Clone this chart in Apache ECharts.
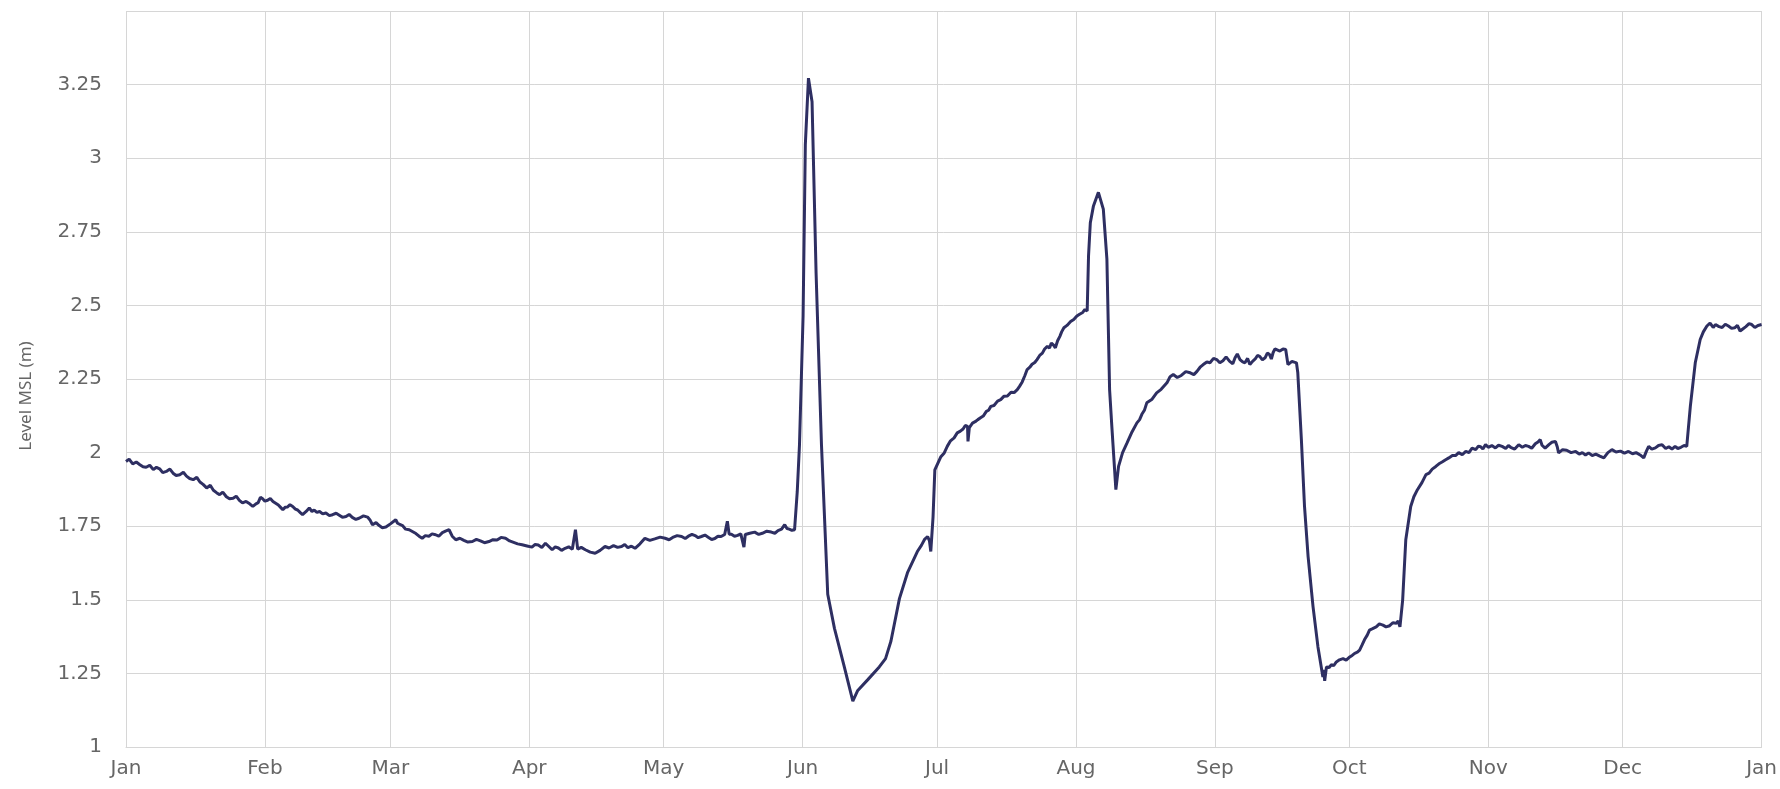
<!DOCTYPE html>
<html>
<head>
<meta charset="utf-8">
<script src="https://cdn.jsdelivr.net/npm/echarts@6/dist/echarts.min.js"></script>
<style>
html,body{margin:0;padding:0;background:#fff;}
#chart{width:1780px;height:789px;}
</style>
</head>
<body>
<div id="chart"></div>
<script>
// [day of year (from 1 Jan), level MSL (m)], segment by segment
const janToMay = [
[0,1.970],[0.7,1.978],[1.5,1.962],[2.3,1.968],[3.1,1.959],[3.8,1.952],[4.5,1.950],[5.3,1.957],[6.1,1.942],[6.8,1.950],
[7.5,1.945],[8.2,1.932],[9.0,1.936],[9.8,1.944],[10.5,1.930],[11.2,1.922],[12.0,1.925],[12.8,1.933],[13.5,1.920],[14.2,1.912],
[15,1.908],[15.8,1.916],[16.5,1.900],[17.2,1.892],[18,1.880],[18.8,1.889],[19.5,1.872],[20.2,1.864],[20.9,1.857],[21.6,1.866],
[22.4,1.850],[23.1,1.843],[23.9,1.845],[24.6,1.852],[25.3,1.838],[26.0,1.829],[26.8,1.834],[27.6,1.826],[28.3,1.817],[29.0,1.826],
[29.5,1.830],[30.0,1.848],[30.5,1.843],[31.0,1.835],[31.6,1.838],[32.2,1.844],[32.8,1.834],[33.4,1.828],[34,1.822],[34.5,1.814],
[35,1.806],[35.5,1.814],[36,1.815],[36.6,1.823],[37.2,1.817],[37.8,1.808],[38.3,1.805],[38.9,1.796],[39.4,1.789],[40.2,1.800],
[40.9,1.812],[41.5,1.800],[42,1.805],[42.6,1.797],[43.2,1.800],[43.9,1.792],[44.6,1.795],[45.4,1.786],[46.1,1.789],[46.9,1.794],
[47.6,1.787],[48.3,1.780],[49.1,1.783],[49.8,1.790],[50.5,1.780],[51.3,1.773],[52,1.777],[53,1.785],[53.9,1.781],[54.5,1.770],
[55,1.755],[55.8,1.762],[56.5,1.752],[57.2,1.745],[58,1.747],[59,1.758],[60.2,1.772],[60.6,1.760],[61,1.766],[61.7,1.752],
[62.4,1.740],[62.8,1.745],[63.2,1.738],[63.9,1.732],[64.7,1.725],[65.4,1.716],[66.1,1.709],[66.8,1.718],[67.6,1.716],[68.3,1.724],
[69.1,1.721],[69.8,1.716],[70.6,1.728],[71.3,1.733],[72.1,1.738],[72.8,1.716],[73.6,1.704],[74.5,1.709],[75.4,1.702],[76.3,1.696],
[77.3,1.698],[78.2,1.705],[79.1,1.700],[80,1.694],[81,1.698],[81.9,1.704],[82.8,1.703],[83.7,1.712],[84.7,1.709],[85.6,1.700],
[86.5,1.695],[87.4,1.690],[88.4,1.687],[89.5,1.683],[90.6,1.679],[91.3,1.688],[92,1.686],[92.8,1.678],[93.6,1.692],[94.3,1.682],
[95.1,1.670],[95.8,1.680],[96.5,1.676],[97.2,1.668],[98,1.675],[98.8,1.680],[99.6,1.672],[100.3,1.738],[100.8,1.672],[101.6,1.678],
[102.5,1.670],[103.6,1.662],[104.7,1.658],[105.8,1.668],[106.9,1.681],[107.8,1.676],[108.8,1.684],[109.7,1.678],[110.6,1.681],[111.3,1.688],
[112,1.677],[112.8,1.682],[113.6,1.675],[114.7,1.690],[115.8,1.709],[116.9,1.702],[118,1.707],[119.2,1.713],[120.3,1.709],[121.2,1.704],
[122,1.712],[123,1.718],[124,1.715],[124.8,1.708],[125.5,1.716],[126.3,1.722],[127,1.718],[127.7,1.711],[128.4,1.715],[129.2,1.720],
[130,1.712],[130.7,1.705],[131.4,1.708],[132.1,1.716],[132.8,1.715],[133.6,1.722],[134.2,1.767],[134.6,1.723],[135.1,1.723],[135.8,1.716],
[136.5,1.719],[137.2,1.724],[137.9,1.679],[138.2,1.722],[139.2,1.726],[140.3,1.730],[141.2,1.722],[142,1.726],[143,1.733],[144,1.730],
[144.8,1.726],[145.5,1.735],[146.3,1.740],[147,1.755],[147.5,1.742],[148,1.740],[148.6,1.736],[149.2,1.738]
];
const juneSurge = [
[149.8,1.868],[150.3,2.028],[151.1,2.465],[151.6,3.046],[152.3,3.272],[153.1,3.192],[154,2.610],[155.2,2.028],[156.6,1.519],[158.1,1.403],
[160.3,1.272],[162.2,1.156],[163.3,1.192],[165.5,1.228],[168.1,1.272],[169.5,1.300],[170.7,1.359],[172.6,1.504],[174.4,1.592],[176.6,1.664],
[177.5,1.685],[178.2,1.705],[178.9,1.715],[179.3,1.700],[179.6,1.664],[180.1,1.781],[180.5,1.941]
];
const julyRise = [
[181.8,1.985],[182.6,1.999],[183.3,2.022],[184,2.040],[184.8,2.050],[185.5,2.067],[186.2,2.073],[186.8,2.080],[187.3,2.092],[187.8,2.089],
[187.9,2.038],[188.2,2.085],[188.9,2.100],[189.5,2.105],[190.1,2.112],[190.7,2.118],[191.3,2.124],[192,2.140],[192.5,2.144],[193,2.157],
[193.7,2.160],[194.5,2.175],[195.2,2.180],[195.9,2.191],[196.7,2.192],[197.5,2.205],[198.2,2.204],[198.9,2.214],[199.4,2.225],[200,2.240],
[200.6,2.262],[201.1,2.282],[201.7,2.290],[202.2,2.300],[202.8,2.306],[203.3,2.316],[203.9,2.330],[204.5,2.338],[205,2.352],[205.6,2.361],
[206.1,2.355],[206.5,2.372],[207,2.365],[207.4,2.356],[207.9,2.380],[208.4,2.395],[208.8,2.410],[209.3,2.424],[210,2.432],[210.8,2.445],
[211.5,2.452],[212.2,2.464],[212.8,2.470],[213.5,2.476],[214,2.486],[214.5,2.481]
];
const augustSurge = [
[214.8,2.668],[215.2,2.781],[215.9,2.838],[217,2.884],[218.1,2.827],[218.9,2.657],[219.5,2.214],[220,2.089],[220.9,1.874]
];
const augToSep = [
[221.5,1.953],[222.4,2.000],[223.4,2.033],[224.5,2.070],[225.6,2.101],[226.2,2.112],[226.7,2.130],[227.3,2.145],[227.8,2.169],[228.9,2.180],
[230,2.203],[231,2.215],[232.3,2.237],[233,2.258],[233.7,2.265],[234.6,2.255],[235.5,2.262],[236.5,2.275],[237.5,2.271],[238.3,2.265],
[239,2.276],[239.7,2.290],[240.4,2.299],[241.2,2.308],[241.9,2.305],[242.7,2.320],[243.4,2.316],[244.1,2.305],[244.8,2.312],[245.5,2.325],
[246.3,2.310],[247,2.302],[247.5,2.322],[248,2.335],[248.6,2.316],[249.2,2.308],[249.7,2.305],[250.3,2.320],[250.8,2.299],[251.4,2.310],
[252,2.318],[252.5,2.330],[253,2.327],[253.6,2.315],[254.2,2.322],[254.7,2.338],[255.2,2.333],[255.6,2.318],[256,2.340],[256.4,2.352],
[256.7,2.350],[257.5,2.345],[258.2,2.352],[258.8,2.350],[259.3,2.299],[260.2,2.310],[261.2,2.305],[261.5,2.271]
];
const septDropOct = [
[262.3,2.044],[263,1.817],[263.8,1.647],[264.9,1.477],[266,1.340],[267.1,1.238],[267.3,1.262],[267.5,1.225],[267.9,1.272],[268.5,1.270],
[269,1.280],[269.5,1.276],[270.1,1.289],[270.8,1.296],[271.6,1.300],[272.3,1.295],[273.1,1.306],[273.7,1.312],[274.2,1.318],[274.8,1.322],
[275.3,1.329],[275.8,1.345],[276.4,1.365],[277,1.380],[277.5,1.397],[278.2,1.402],[279,1.408],[279.7,1.418],[280.5,1.414],[281.2,1.408],
[282,1.412],[282.7,1.422],[283.5,1.420],[283.9,1.428],[284.3,1.408],[284.9,1.499],[285.6,1.704]
];
const novToDec = [
[286.7,1.817],[287.4,1.850],[288.2,1.874],[289.2,1.898],[290.1,1.925],[290.8,1.930],[291.5,1.944],[292.3,1.953],[293,1.962],[293.7,1.968],
[294.4,1.975],[295.2,1.982],[296,1.990],[296.7,1.990],[297.4,2.000],[298.2,1.993],[299,2.004],[299.7,2.000],[300.4,2.015],[301.2,2.010],
[301.8,2.022],[302.3,2.020],[302.8,2.012],[303.4,2.027],[304,2.018],[304.8,2.024],[305.6,2.016],[306.3,2.025],[307.1,2.021],[307.9,2.014],
[308.5,2.024],[309,2.018],[309.9,2.012],[310.8,2.027],[311.6,2.018],[312.3,2.024],[313,2.021],[313.7,2.015],[314.5,2.030],[315.1,2.036],
[315.6,2.044],[316,2.025],[316.3,2.030],[316.7,2.015],[317.1,2.021],[317.6,2.028],[318.2,2.035],[319,2.038],[319.4,2.020],[319.7,1.999],
[320.6,2.010],[321.5,2.008],[322.5,2.000],[323.5,2.004],[324.3,1.995],[325,2.000],[325.7,1.992],[326.4,1.999],[327.2,1.990],[328,1.995],
[328.9,1.988],[329.8,1.982],[330.7,2.000],[331.6,2.010],[332.5,2.002],[333.5,2.005],[334.4,1.998],[335.3,2.004],[336.2,1.996],[337,2.000],
[337.9,1.992],[338.7,1.982],[339.3,2.005],[339.8,2.021],[340.5,2.012],[341.3,2.016],[342,2.024],[342.8,2.027],[343.6,2.014],[344.3,2.020],
[345,2.012],[345.7,2.021],[346.3,2.014],[347,2.018],[347.7,2.024],[348.3,2.021]
];
const decRise = [
[349.1,2.157],[350.2,2.305],[351.3,2.384],[352,2.410],[352.8,2.430],[353.5,2.440],[354.2,2.425],[354.7,2.435],[355.5,2.428],[356.2,2.425],
[356.9,2.436],[357.6,2.430],[358.3,2.422],[359,2.424],[359.6,2.432],[360.2,2.413],[360.8,2.420],[361.5,2.428],[362.2,2.438],[362.8,2.435],
[363.5,2.425],[364.2,2.432],[365,2.435]
];
const segments = [janToMay, juneSurge, julyRise, augustSurge, augToSep, septDropOct, novToDec, decRise];
const yTicks = {min: 1, max: 3.5, step: 0.25};
const yName = 'Level MSL (m)';
const startDate = Date.UTC(2015, 0, 1);
const endDate = Date.UTC(2016, 0, 1);

const seriesData = [];
segments.forEach(seg => seg.forEach(p => seriesData.push([startDate + p[0] * 86400000, p[1]])));

const chart = echarts.init(document.getElementById('chart'), null, {renderer: 'canvas'});
chart.setOption({
  useUTC: true,
  animation: false,
  backgroundColor: '#ffffff',
  grid: {left: 126, right: 13, top: 11, bottom: 42, containLabel: false},
  xAxis: {
    type: 'time',
    min: startDate,
    max: endDate,
    splitNumber: 12,
    axisLine: {show: true, lineStyle: {color: '#d6d6d6', width: 1}},
    axisTick: {show: false},
    splitLine: {show: true, lineStyle: {color: '#d6d6d6', width: 1}},
    axisLabel: {
      formatter: '{MMM}',
      color: '#666666',
      fontFamily: 'DejaVu Sans',
      fontSize: 20,
      margin: 12,
      showMinLabel: true,
      showMaxLabel: true,
      hideOverlap: false
    }
  },
  yAxis: {
    type: 'value',
    min: yTicks.min,
    max: yTicks.max,
    interval: yTicks.step,
    name: yName,
    nameLocation: 'middle',
    nameGap: 91,
    nameTextStyle: {color: '#666666', fontFamily: 'Noto Sans', fontSize: 17, padding: [0, 34, 0, 0]},
    axisLine: {show: false},
    axisTick: {show: false},
    splitLine: {show: true, lineStyle: {color: '#d6d6d6', width: 1}},
    axisLabel: {
      color: '#666666',
      fontFamily: 'DejaVu Sans',
      fontSize: 20,
      margin: 24,
      showMaxLabel: false
    }
  },
  series: [{
    type: 'line',
    data: seriesData,
    showSymbol: false,
    symbol: 'none',
    smooth: false,
    lineStyle: {color: '#2e2f62', width: 3},
    z: 3
  }]
});
</script>
</body>
</html>
